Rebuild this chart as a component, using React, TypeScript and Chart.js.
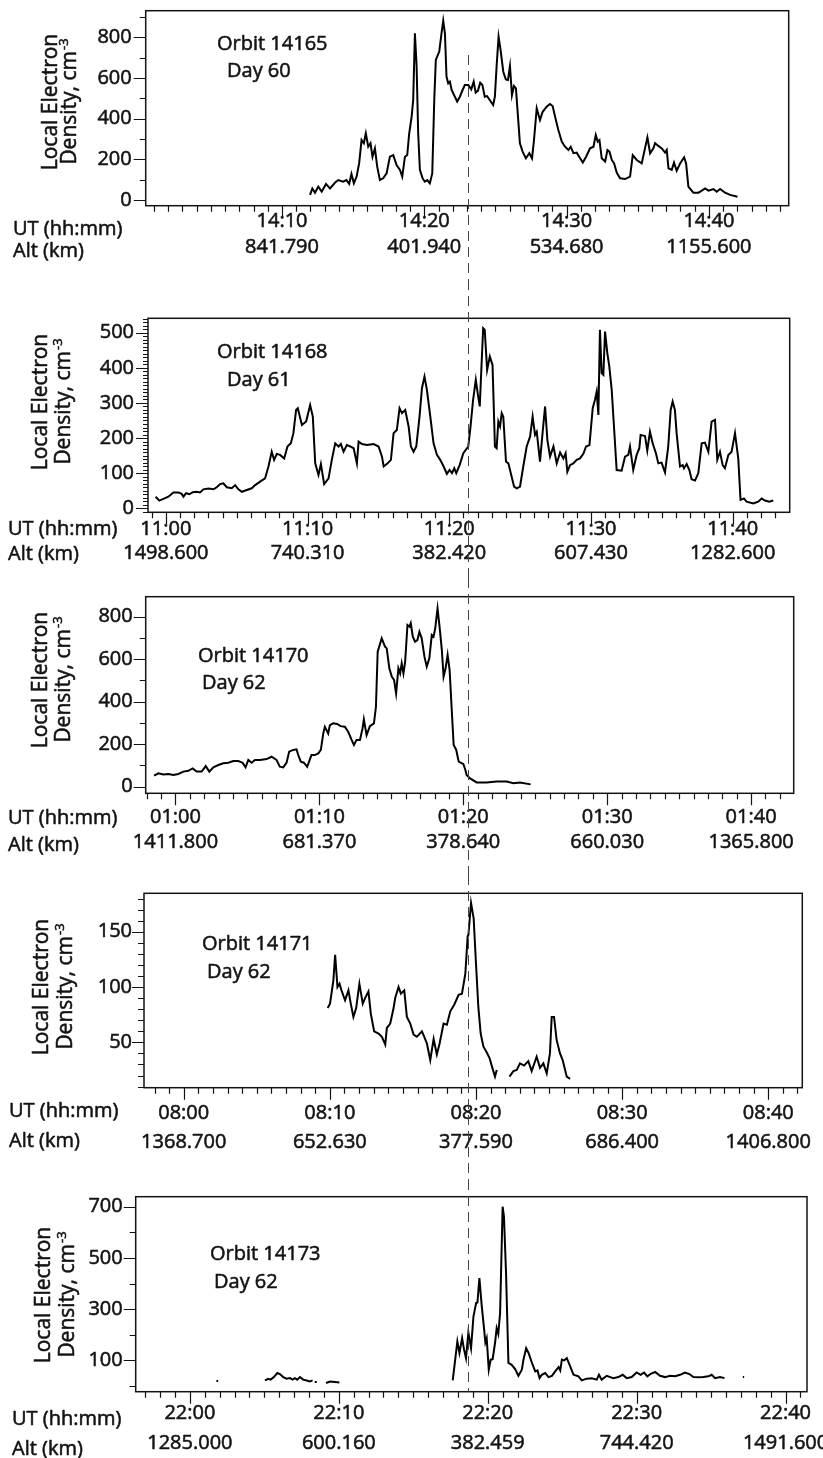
import React, { useEffect, useRef } from 'react';
import { Chart, registerables } from 'chart.js';

Chart.register(...registerables);

// ---------------- DATA ----------------
// Times are minutes after the hour shown in the UT tick labels.

// Orbit 14165, Day 60 (UT 14:xx)
const p1Time = [11.97, 12.13, 12.32, 12.55, 12.79, 13.09, 13.37, 13.72, 13.95, 14.3, 14.53, 14.72, 14.88, 15.05, 15.24, 15.42, 15.59, 15.75, 15.89, 16.06, 16.22, 16.36, 16.53, 16.69, 16.88, 17.11, 17.35, 17.58, 17.82, 18.05, 18.29, 18.45, 18.64, 18.8, 18.94, 19.11, 19.22, 19.34, 19.46, 19.57, 19.69, 19.88, 20.04, 20.21, 20.39, 20.56, 20.7, 20.81, 21.05, 21.21, 21.33, 21.45, 21.56, 21.68, 21.8, 21.92, 22.15, 22.31, 22.5, 22.69, 22.85, 23.09, 23.3, 23.47, 23.61, 23.77, 23.93, 24.08, 24.25, 24.41, 24.6, 24.84, 24.96, 25.08, 25.22, 25.36, 25.55, 25.73, 25.88, 26.02, 26.16, 26.3, 26.44, 26.72, 26.91, 27.14, 27.38, 27.57, 27.71, 27.9, 28.13, 28.32, 28.6, 28.83, 29.02, 29.19, 29.42, 29.66, 29.89, 30.13, 30.29, 30.48, 30.71, 30.95, 31.14, 31.37, 31.65, 31.89, 32.05, 32.19, 32.31, 32.47, 32.71, 32.87, 33.01, 33.18, 33.34, 33.53, 33.76, 34.11, 34.46, 34.65, 34.93, 35.28, 35.51, 35.68, 35.87, 36.1, 36.22, 36.45, 36.69, 36.92, 37.04, 37.16, 37.39, 37.55, 37.74, 37.98, 38.26, 38.4, 38.56, 38.91, 39.27, 39.5, 39.74, 39.97, 40.32, 40.55, 40.79, 41.14, 41.49, 42.01];
const p1Density = [25, 57, 36, 66, 41, 79, 57, 85, 98, 90, 98, 79, 128, 82, 115, 180, 295, 279, 328, 262, 279, 213, 254, 164, 98, 107, 131, 213, 221, 172, 148, 115, 213, 221, 328, 410, 492, 820, 656, 328, 148, 107, 90, 98, 82, 131, 492, 689, 730, 820, 882, 820, 607, 574, 582, 541, 508, 484, 508, 541, 566, 566, 544, 582, 528, 538, 577, 566, 508, 511, 492, 467, 508, 656, 803, 738, 631, 593, 590, 659, 516, 561, 549, 279, 238, 205, 230, 205, 295, 451, 393, 434, 459, 472, 462, 410, 344, 287, 262, 246, 262, 230, 233, 205, 184, 213, 254, 262, 320, 287, 295, 205, 189, 246, 238, 197, 180, 134, 107, 103, 115, 221, 197, 180, 254, 308, 230, 254, 279, 266, 254, 233, 246, 156, 148, 184, 144, 180, 210, 180, 66, 36, 36, 46, 57, 46, 54, 41, 54, 36, 25, 16];

// Orbit 14168, Day 61 (UT 11:xx)
const p2Time = [-0.72, -0.46, -0.17, 0.18, 0.53, 0.89, 1.12, 1.24, 1.43, 1.66, 1.9, 2.18, 2.41, 2.65, 3.0, 3.36, 3.59, 3.83, 4.06, 4.3, 4.65, 4.89, 5.12, 5.36, 5.71, 6.06, 6.3, 6.65, 7.0, 7.24, 7.47, 7.64, 7.83, 8.06, 8.35, 8.58, 8.82, 9.0, 9.19, 9.31, 9.6, 9.9, 10.18, 10.37, 10.54, 10.77, 10.94, 11.17, 11.48, 11.71, 11.95, 12.19, 12.35, 12.54, 12.77, 13.01, 13.25, 13.48, 13.6, 13.84, 14.19, 14.66, 15.01, 15.25, 15.37, 15.65, 15.88, 16.07, 16.3, 16.49, 16.66, 16.89, 17.13, 17.29, 17.48, 17.67, 17.9, 18.07, 18.25, 18.42, 18.66, 18.89, 19.13, 19.36, 19.6, 19.83, 20.02, 20.19, 20.35, 20.49, 20.73, 20.99, 21.34, 21.5, 21.68, 21.87, 22.04, 22.15, 22.27, 22.39, 22.5, 22.67, 22.86, 23.05, 23.22, 23.34, 23.46, 23.58, 23.7, 23.81, 24.0, 24.17, 24.4, 24.57, 24.76, 24.99, 25.22, 25.46, 25.7, 25.88, 26.05, 26.17, 26.4, 26.59, 26.76, 26.92, 27.11, 27.35, 27.58, 27.82, 28.05, 28.21, 28.33, 28.52, 28.75, 28.99, 29.22, 29.46, 29.65, 29.89, 30.12, 30.28, 30.4, 30.52, 30.63, 30.75, 30.87, 30.99, 31.15, 31.29, 31.46, 31.62, 31.81, 32.16, 32.4, 32.63, 32.75, 32.98, 33.22, 33.41, 33.5, 33.81, 33.97, 34.16, 34.35, 34.58, 34.75, 34.98, 35.22, 35.45, 35.62, 35.76, 35.92, 36.04, 36.28, 36.47, 36.56, 36.75, 36.94, 37.1, 37.34, 37.57, 37.81, 38.04, 38.28, 38.51, 38.75, 38.91, 39.1, 39.29, 39.45, 39.69, 39.92, 40.16, 40.39, 40.55, 40.79, 40.98, 41.45, 41.8, 42.04, 42.27, 42.58, 42.86];
const p2Density = [33, 22, 27, 33, 45, 45, 41, 33, 43, 40, 46, 47, 45, 54, 56, 54, 60, 69, 71, 60, 57, 66, 54, 47, 52, 57, 66, 76, 85, 119, 161, 138, 155, 152, 142, 176, 185, 214, 280, 285, 237, 247, 294, 261, 128, 95, 126, 69, 85, 138, 185, 176, 183, 161, 180, 176, 171, 128, 190, 183, 180, 183, 176, 147, 119, 128, 138, 214, 223, 285, 271, 280, 233, 176, 161, 176, 261, 342, 375, 337, 261, 185, 152, 138, 119, 98, 109, 100, 114, 100, 123, 157, 176, 233, 309, 366, 318, 290, 404, 513, 508, 394, 432, 408, 176, 171, 247, 233, 271, 261, 133, 128, 90, 62, 57, 62, 119, 176, 204, 261, 209, 218, 133, 218, 290, 195, 147, 176, 128, 159, 142, 157, 104, 123, 128, 138, 142, 155, 176, 180, 285, 309, 332, 266, 508, 385, 380, 503, 442, 404, 337, 233, 109, 107, 147, 152, 176, 109, 152, 171, 209, 206, 164, 218, 185, 157, 128, 130, 102, 176, 280, 304, 280, 214, 119, 123, 114, 126, 109, 83, 79, 100, 185, 187, 161, 247, 252, 138, 161, 123, 114, 152, 161, 214, 142, 24, 28, 19, 14, 19, 28, 22, 19, 22];

// Orbit 14170, Day 62 (UT 01:xx)
const p3Time = [-1.49, -1.19, -0.84, -0.49, -0.15, 0.2, 0.55, 0.89, 1.19, 1.47, 1.82, 2.1, 2.35, 2.63, 2.98, 3.32, 3.67, 4.02, 4.36, 4.66, 4.87, 5.06, 5.29, 5.52, 5.87, 6.33, 6.68, 7.02, 7.25, 7.49, 7.72, 7.9, 8.18, 8.41, 8.53, 8.71, 8.92, 9.15, 9.45, 9.68, 9.92, 10.1, 10.27, 10.38, 10.61, 10.73, 10.96, 11.24, 11.47, 11.77, 12.0, 12.24, 12.4, 12.58, 12.82, 13.0, 13.09, 13.28, 13.51, 13.79, 13.93, 14.05, 14.33, 14.56, 14.68, 14.86, 15.03, 15.19, 15.33, 15.49, 15.61, 15.72, 15.84, 15.96, 16.12, 16.26, 16.35, 16.49, 16.65, 16.81, 16.95, 17.11, 17.3, 17.46, 17.64, 17.81, 17.93, 18.05, 18.21, 18.35, 18.51, 18.63, 18.77, 18.91, 19.05, 19.21, 19.33, 19.51, 19.68, 19.91, 20.0, 20.14, 20.23, 20.47, 20.93, 21.63, 22.32, 23.02, 23.48, 23.94, 24.68];
const p3Density = [52, 63, 58, 60, 55, 60, 71, 75, 86, 71, 71, 97, 71, 91, 102, 110, 113, 121, 121, 113, 91, 126, 113, 126, 126, 130, 141, 126, 94, 91, 113, 165, 173, 176, 149, 118, 113, 94, 149, 149, 157, 173, 251, 282, 251, 290, 298, 295, 285, 282, 259, 220, 196, 220, 220, 275, 317, 243, 285, 298, 376, 635, 698, 659, 651, 557, 518, 502, 439, 557, 533, 580, 533, 588, 761, 753, 769, 706, 682, 690, 729, 698, 612, 565, 604, 714, 706, 745, 839, 753, 643, 518, 557, 620, 549, 345, 196, 173, 118, 110, 107, 80, 55, 39, 20, 20, 24, 24, 16, 20, 11];

// Orbit 14171, Day 62 (UT 08:xx) - null marks a data gap
const p4Time = [9.85, 10.01, 10.24, 10.36, 10.52, 10.66, 10.82, 11.04, 11.27, 11.43, 11.61, 11.8, 12.02, 12.25, 12.41, 12.64, 12.8, 13.03, 13.33, 13.56, 13.79, 13.9, 14.13, 14.36, 14.47, 14.7, 14.86, 15.09, 15.27, 15.5, 15.73, 15.95, 16.3, 16.46, 16.64, 16.87, 17.1, 17.32, 17.51, 17.78, 18.01, 18.24, 18.51, 18.81, 19.04, 19.27, 19.43, 19.48, 19.66, 19.84, 20.0, 20.16, 20.32, 20.51, 20.73, 20.92, 21.14, 21.3, 21.42, 21.85, 22.29, 22.56, 22.79, 23.01, 23.29, 23.58, 23.81, 24.15, 24.38, 24.61, 24.84, 25.06, 25.18, 25.34, 25.52, 25.75, 25.93, 26.21, 26.44];
const p4Density = [81, 85, 106, 129, 100, 103, 96, 88, 97, 85, 73, 81, 103, 85, 90, 96, 76, 60, 58, 55, 48, 63, 67, 81, 90, 100, 94, 97, 73, 67, 57, 55, 60, 55, 49, 34, 53, 39, 49, 67, 66, 78, 84, 93, 94, 112, 146, 147, 176, 162, 121, 82, 58, 46, 41, 36, 26, 19, 25, null, 19, 24, 25, 31, 29, 33, 24, 37, 27, 31, 22, 40, 73, 73, 52, 40, 34, 19, 17];

// Orbit 14173, Day 62 (UT 22:xx) - null marks a data gap
const p5Time = [1.78, 1.9, 3.5, 5.04, 5.26, 5.42, 5.64, 5.87, 6.04, 6.27, 6.49, 6.72, 6.9, 7.05, 7.21, 7.39, 7.61, 7.84, 8.06, 8.24, 8.31, 8.38, 8.52, 8.8, 9.14, 9.41, 9.74, 10.04, 14.0, 17.65, 17.96, 18.1, 18.28, 18.41, 18.54, 18.7, 18.88, 19.04, 19.22, 19.31, 19.44, 19.6, 19.76, 19.84, 19.93, 20.07, 20.2, 20.33, 20.49, 20.6, 20.71, 20.83, 21.0, 21.09, 21.23, 21.39, 21.61, 21.84, 22.06, 22.29, 22.4, 22.58, 22.74, 22.96, 23.19, 23.34, 23.48, 23.63, 23.86, 24.08, 24.31, 24.53, 24.76, 24.87, 24.98, 25.13, 25.31, 25.54, 25.76, 26.09, 26.31, 26.65, 26.98, 27.32, 27.47, 27.65, 27.99, 28.43, 28.77, 29.06, 29.33, 29.67, 30.0, 30.27, 30.5, 30.72, 30.95, 31.24, 31.57, 31.91, 32.24, 32.58, 32.92, 33.25, 33.54, 33.81, 34.15, 34.48, 34.82, 35.04, 35.27, 35.6, 35.9, 36.5, 37.13, 37.22];
const p5Density = [20, 20, null, 22, 28, 25, 35, 51, 47, 35, 29, 31, 25, 31, 25, 35, 25, 22, 18, 22, null, 16, 16, null, 12, 18, 16, 14, null, 22, 174, 129, 187, 142, 109, 209, 148, 271, 324, 326, 421, 311, 220, 170, 187, 64, 103, 105, 168, 226, 204, 285, 700, 661, 440, 90, 83, 66, 40, 64, 103, 148, 129, 92, 57, 61, 31, 44, 51, 35, 40, 57, 74, 61, 103, 100, 109, 77, 44, 38, 22, 29, 30, 25, 44, 25, 40, 31, 35, 44, 31, 35, 53, 44, 53, 38, 48, 55, 40, 35, 40, 38, 44, 53, 47, 35, 34, 35, 38, 44, 31, 35, 31, null, 35, 35];

// Tick labels
const p1TickMin = [10, 20, 30, 40];
const p1TickUT = ['14:10', '14:20', '14:30', '14:40'];
const p1TickAlt = ['841.790', '401.940', '534.680', '1155.600'];
const p2TickMin = [0, 10, 20, 30, 40];
const p2TickUT = ['11:00', '11:10', '11:20', '11:30', '11:40'];
const p2TickAlt = ['1498.600', '740.310', '382.420', '607.430', '1282.600'];
const p3TickMin = [0, 10, 20, 30, 40];
const p3TickUT = ['01:00', '01:10', '01:20', '01:30', '01:40'];
const p3TickAlt = ['1411.800', '681.370', '378.640', '660.030', '1365.800'];
const p4TickMin = [0, 10, 20, 30, 40];
const p4TickUT = ['08:00', '08:10', '08:20', '08:30', '08:40'];
const p4TickAlt = ['1368.700', '652.630', '377.590', '686.400', '1406.800'];
const p5TickMin = [0, 10, 20, 30, 40];
const p5TickUT = ['22:00', '22:10', '22:20', '22:30', '22:40'];
const p5TickAlt = ['1285.000', '600.160', '382.459', '744.420', '1491.600'];

const p1YTicks = [0, 200, 400, 600, 800];
const p2YTicks = [0, 100, 200, 300, 400, 500];
const p3YTicks = [0, 200, 400, 600, 800];
const p4YTicks = [50, 100, 150];
const p5YTicks = [100, 300, 500, 700];

const orbitNames = ['Orbit 14165', 'Orbit 14168', 'Orbit 14170', 'Orbit 14171', 'Orbit 14173'];
const dayNames = ['Day 60', 'Day 61', 'Day 62', 'Day 62', 'Day 62'];
// time (min) of the vertical dashed reference line in each panel
const dashTimes = [23.1, 21.34, 20.35, 19.47, 18.7];

// ---------------- LAYOUT / STYLE ----------------
const INK = '#141213';
const FONT = "'Open Sans', 'Noto Sans', sans-serif";
const STROKE = 0.55; // slight text emboldening
const TICK_SIZE = 20;
const W = 823;

type Panel = {
  time: number[]; dens: (number | null)[];
  ticks: number[]; ut: string[]; alt: string[]; yTicks: number[];
  xMin: number; xMax: number; yMin: number; yMax: number;
  xMinorFrom: number; xMinorTo: number; yMinorFrom: number; yMinorTo: number; yMinorStep: number; yMinorLen: number;
  top: number; h: number; area: { l: number; r: number; t: number; b: number };
  lblPad: number; lblLH: number; yPad: number;
  row: { x: number; ut: number; alt: number };
  ann: { ox: number; oy: number; dx: number; dy: number };
  ytitle: { x1: number; x2: number; cy: number };
  dashFrom: number | null; dashToAxis: boolean;
};

const panels: Panel[] = [
  {
    time: p1Time, dens: p1Density, ticks: p1TickMin, ut: p1TickUT, alt: p1TickAlt, yTicks: p1YTicks,
    xMin: 0.42, xMax: 45.61, yMin: -28, yMax: 931,
    xMinorFrom: 1, xMinorTo: 45, yMinorFrom: 0, yMinorTo: 900, yMinorStep: 100, yMinorLen: 6,
    top: 0, h: 280, area: { l: 145.7, r: 788.7, t: 10.7, b: 205.7 },
    lblPad: 3, lblLH: 25.5, yPad: 14,
    row: { x: 13, ut: 235, alt: 257 },
    ann: { ox: 217, oy: 50, dx: 227, dy: 77 },
    ytitle: { x1: 57, x2: 76, cy: 102 },
    dashFrom: 713, dashToAxis: false,
  },
  {
    time: p2Time, dens: p2Density, ticks: p2TickMin, ut: p2TickUT, alt: p2TickAlt, yTicks: p2YTicks,
    xMin: -1.26, xMax: 44.02, yMin: -11.4, yMax: 541,
    xMinorFrom: -1, xMinorTo: 43, yMinorFrom: -10, yMinorTo: 540, yMinorStep: 10, yMinorLen: 5,
    top: 280, h: 298, area: { l: 148, r: 789.7, t: 318.3, b: 512.3 },
    lblPad: 4.5, lblLH: 24, yPad: 14,
    row: { x: 8, ut: 535, alt: 560 },
    ann: { ox: 217, oy: 358, dx: 227, dy: 386 },
    ytitle: { x1: 47, x2: 70, cy: 402 },
    dashFrom: null, dashToAxis: false,
  },
  {
    time: p3Time, dens: p3Density, ticks: p3TickMin, ut: p3TickUT, alt: p3TickAlt, yTicks: p3YTicks,
    xMin: -2.07, xMax: 42.96, yMin: -31, yMax: 894,
    xMinorFrom: -2, xMinorTo: 42, yMinorFrom: 0, yMinorTo: 800, yMinorStep: 100, yMinorLen: 6,
    top: 578, h: 297, area: { l: 145.7, r: 793.7, t: 596.7, b: 793.3 },
    lblPad: 11, lblLH: 25.5, yPad: 13,
    row: { x: 8, ut: 824, alt: 851 },
    ann: { ox: 198, oy: 662, dx: 202, dy: 689 },
    ytitle: { x1: 47, x2: 70, cy: 680 },
    dashFrom: null, dashToAxis: false,
  },
  {
    time: p4Time, dens: p4Density, ticks: p4TickMin, ut: p4TickUT, alt: p4TickAlt, yTicks: p4YTicks,
    xMin: -2.72, xMax: 42.33, yMin: 9, yMax: 184.7,
    xMinorFrom: -2, xMinorTo: 42, yMinorFrom: 10, yMinorTo: 180, yMinorStep: 10, yMinorLen: 6,
    top: 875, h: 305, area: { l: 144, r: 802.3, t: 893.3, b: 1087.7 },
    lblPad: 11.5, lblLH: 28.8, yPad: 12,
    row: { x: 9, ut: 1117, alt: 1147 },
    ann: { ox: 202, oy: 950, dx: 207, dy: 978 },
    ytitle: { x1: 48, x2: 72, cy: 987 },
    dashFrom: null, dashToAxis: false,
  },
  {
    time: p5Time, dens: p5Density, ticks: p5TickMin, ut: p5TickUT, alt: p5TickAlt, yTicks: p5YTicks,
    xMin: -3.64, xMax: 41.44, yMin: -22, yMax: 739,
    xMinorFrom: -3, xMinorTo: 41, yMinorFrom: 0, yMinorTo: 700, yMinorStep: 100, yMinorLen: 6,
    top: 1180, h: 278, area: { l: 135.7, r: 807, t: 1196.7, b: 1391.7 },
    lblPad: 7, lblLH: 30, yPad: 13,
    row: { x: 12, ut: 1425, alt: 1455 },
    ann: { ox: 210, oy: 1260, dx: 214, dy: 1288 },
    ytitle: { x1: 50, x2: 74, cy: 1295 },
    dashFrom: null, dashToAxis: true,
  },
];

function drawText(ctx: CanvasRenderingContext2D, s: string, x: number, y: number) {
  ctx.fillText(s, x, y);
  ctx.strokeText(s, x, y);
}

function decorPlugin(p: Panel, idx: number) {
  return {
    id: 'decor' + idx,
    afterDraw(chart: any) {
      const { ctx, chartArea: a, scales } = chart;
      const x = scales.x, y = scales.y;
      const off = p.top;
      ctx.save();
      // frame
      ctx.strokeStyle = INK;
      ctx.lineWidth = 1.5;
      ctx.strokeRect(a.left, a.top, a.right - a.left, a.bottom - a.top);
      // ticks
      ctx.lineWidth = 1.2;
      ctx.beginPath();
      for (let m = p.xMinorFrom; m <= p.xMinorTo; m += 1) {
        const px = Math.round(x.getPixelForValue(m)) + 0.5;
        const len = p.ticks.includes(m) ? 12 : 6;
        ctx.moveTo(px, a.bottom);
        ctx.lineTo(px, a.bottom + len);
      }
      for (let v = p.yMinorFrom; v <= p.yMinorTo; v += p.yMinorStep) {
        const py = Math.round(y.getPixelForValue(v)) + 0.5;
        const len = p.yTicks.includes(v) ? 12 : p.yMinorLen;
        ctx.moveTo(a.left, py);
        ctx.lineTo(a.left - len, py);
      }
      ctx.stroke();
      // dashed reference line
      const dx = Math.round(x.getPixelForValue(dashTimes[idx])) + 0.5;
      const y0 = p.dashFrom != null ? y.getPixelForValue(p.dashFrom) : 0;
      const y1 = p.dashToAxis ? a.bottom : chart.height;
      ctx.strokeStyle = '#444';
      ctx.lineWidth = 1;
      ctx.setLineDash([10, 6]);
      ctx.beginPath();
      ctx.moveTo(dx, y0);
      ctx.lineTo(dx, y1);
      ctx.stroke();
      ctx.setLineDash([]);
      // texts
      ctx.fillStyle = INK;
      ctx.strokeStyle = INK;
      ctx.lineWidth = STROKE;
      ctx.lineJoin = 'round';
      ctx.textBaseline = 'alphabetic';
      ctx.textAlign = 'left';
      ctx.font = `20px ${FONT}`;
      drawText(ctx, 'UT (hh:mm)', p.row.x, p.row.ut - off);
      drawText(ctx, 'Alt (km)', p.row.x, p.row.alt - off);
      drawText(ctx, orbitNames[idx], p.ann.ox, p.ann.oy - off);
      drawText(ctx, dayNames[idx], p.ann.dx, p.ann.dy - off);
      // rotated y title
      ctx.font = `21px ${FONT}`;
      ctx.save();
      ctx.translate(p.ytitle.x1, p.ytitle.cy - off);
      ctx.rotate(-Math.PI / 2);
      ctx.textAlign = 'center';
      drawText(ctx, 'Local Electron', 0, 0);
      ctx.restore();
      ctx.save();
      ctx.translate(p.ytitle.x2, p.ytitle.cy - off);
      ctx.rotate(-Math.PI / 2);
      const main = 'Density, cm';
      ctx.font = `21px ${FONT}`;
      const wMain = ctx.measureText(main).width;
      ctx.font = `13px ${FONT}`;
      const wSup = ctx.measureText('-3').width;
      const start = -(wMain + wSup) / 2;
      ctx.textAlign = 'left';
      ctx.font = `21px ${FONT}`;
      drawText(ctx, main, start, 0);
      ctx.font = `13px ${FONT}`;
      drawText(ctx, '-3', start + wMain + 1, -8);
      ctx.restore();
      ctx.restore();
    },
  };
}

function PanelChart({ p, idx }: { p: Panel; idx: number }) {
  const ref = useRef<HTMLCanvasElement | null>(null);
  useEffect(() => {
    const canvas = ref.current;
    if (!canvas) return;
    const data = p.time.map((t, i) => ({ x: t, y: p.dens[i] }));
    const chart = new Chart(canvas, {
      type: 'line',
      data: {
        datasets: [{
          data: data as any,
          borderColor: '#000',
          borderWidth: 2,
          pointRadius: 0,
          tension: 0,
          spanGaps: false,
          fill: false,
        }],
      },
      options: {
        responsive: false,
        maintainAspectRatio: false,
        animation: false,
        layout: {
          autoPadding: false,
          padding: { left: 0, top: p.area.t - p.top, right: W - p.area.r, bottom: 0 },
        } as any,
        plugins: { legend: { display: false }, tooltip: { enabled: false } },
        scales: {
          x: {
            type: 'linear',
            min: p.xMin,
            max: p.xMax,
            grid: { display: false, drawTicks: false },
            border: { display: false },
            afterBuildTicks: (s: any) => { s.ticks = p.ticks.map((v) => ({ value: v })); },
            afterFit: (s: any) => {
              s.height = p.h - (p.area.b - p.top);
              s.paddingLeft = 0; s.paddingRight = 0;
            },
            ticks: {
              autoSkip: false, maxRotation: 0, minRotation: 0,
              padding: p.lblPad,
              color: INK,
              textStrokeColor: INK,
              textStrokeWidth: STROKE,
              font: { family: FONT, size: TICK_SIZE, lineHeight: p.lblLH / TICK_SIZE },
              callback: (_v: any, i: number) => [p.ut[i], p.alt[i]],
            } as any,
          },
          y: {
            type: 'linear',
            min: p.yMin,
            max: p.yMax,
            grid: { display: false, drawTicks: false },
            border: { display: false },
            afterBuildTicks: (s: any) => { s.ticks = p.yTicks.map((v) => ({ value: v })); },
            afterFit: (s: any) => {
              s.width = p.area.l;
              s.paddingTop = 0; s.paddingBottom = 0;
            },
            ticks: {
              autoSkip: false,
              padding: p.yPad,
              color: INK,
              textStrokeColor: INK,
              textStrokeWidth: STROKE,
              font: { family: FONT, size: TICK_SIZE },
              callback: (v: any) => String(v),
            } as any,
          },
        },
      },
      plugins: [decorPlugin(p, idx)],
    });
    return () => chart.destroy();
  }, [p, idx]);
  return (
    <canvas
      ref={ref}
      width={W}
      height={p.h}
      style={{ position: 'absolute', left: 0, top: p.top, width: W, height: p.h, display: 'block' }}
    />
  );
}

export default function App() {
  return (
    <div style={{ position: 'absolute', left: 0, top: 0, width: W, height: 1458, background: '#fff' }}>
      {panels.map((p, i) => (
        <PanelChart key={i} p={p} idx={i} />
      ))}
    </div>
  );
}
